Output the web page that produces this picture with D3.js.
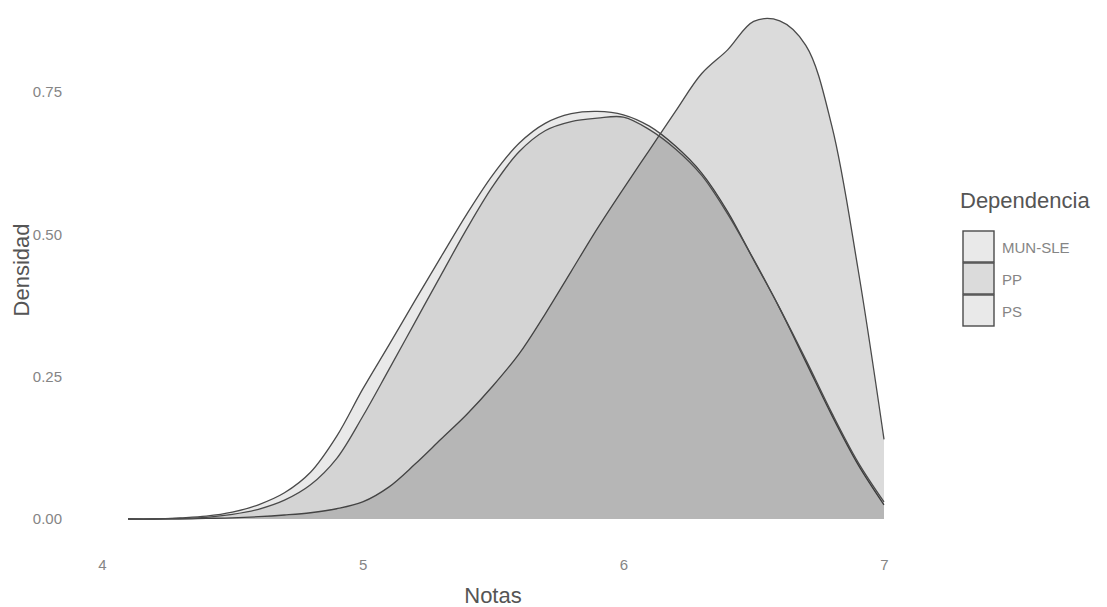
<!DOCTYPE html>
<html>
<head>
<meta charset="utf-8">
<script src="https://cdn.jsdelivr.net/npm/d3@7"></script>
<style>
  html, body { margin: 0; padding: 0; background: #ffffff; }
  svg { display: block; }
  text { font-family: "Liberation Sans", Arial, sans-serif; }
</style>
</head>
<body>
<script>
// ---- data ----
const notas = [4.1, 4.2, 4.3, 4.4, 4.5, 4.6, 4.7, 4.8, 4.9, 5.0,
               5.1, 5.2, 5.3, 5.4, 5.5, 5.6, 5.7, 5.8, 5.9, 6.0,
               6.1, 6.2, 6.3, 6.4, 6.5, 6.6, 6.7, 6.8, 6.9, 7.0];

const densMunSle = [0.000, 0.000, 0.002, 0.005, 0.012, 0.025, 0.046, 0.082, 0.145, 0.228,
                    0.305, 0.383, 0.460, 0.536, 0.605, 0.660, 0.695, 0.712, 0.716, 0.710,
                    0.690, 0.655, 0.608, 0.540, 0.455, 0.370, 0.276, 0.182, 0.096, 0.025];

const densPP     = [0.000, 0.000, 0.000, 0.001, 0.002, 0.004, 0.007, 0.011, 0.018, 0.030,
                    0.056, 0.096, 0.140, 0.184, 0.234, 0.290, 0.360, 0.435, 0.510, 0.580,
                    0.648, 0.716, 0.782, 0.824, 0.874, 0.875, 0.832, 0.690, 0.440, 0.140];

const densPS     = [0.000, 0.000, 0.001, 0.003, 0.008, 0.017, 0.033, 0.060, 0.106, 0.180,
                    0.262, 0.345, 0.428, 0.510, 0.585, 0.645, 0.682, 0.698, 0.704, 0.706,
                    0.684, 0.650, 0.604, 0.536, 0.456, 0.370, 0.280, 0.186, 0.100, 0.030];

const categories = ["MUN-SLE", "PP", "PS"];
const xTicks = [4, 5, 6, 7];
const yTicks = [0, 0.25, 0.5, 0.75];
const xTitle = "Notas";
const yTitle = "Densidad";
const legendTitle = "Dependencia";

// styles (kept apart from data)
const fillOpacity = { "MUN-SLE": 0.085, "PP": 0.14, "PS": 0.085 };
const tickFont = "'Liberation Sans Narrow', 'Liberation Sans', Arial, sans-serif";

const seriesValues = { "MUN-SLE": densMunSle, "PP": densPP, "PS": densPS };

const W = 1107, H = 607;
const svg = d3.select("body").append("svg").attr("width", W).attr("height", H);

const x = d3.scaleLinear().domain([4, 7]).range([102, 884]);
const y = d3.scaleLinear().domain([0, 0.75]).range([519, 92]);

const area = d3.area()
  .x(d => x(d.x)).y0(y(0)).y1(d => Math.min(y(0), y(d.y)))
  .curve(d3.curveCatmullRom.alpha(0.5));
const line = d3.line()
  .x(d => x(d.x)).y(d => y(d.y))
  .curve(d3.curveCatmullRom.alpha(0.5));

const plot = svg.append("g");
categories.forEach(cat => {
  const pts = notas.map((v, i) => ({ x: v, y: seriesValues[cat][i] }));
  plot.append("path").datum(pts)
    .attr("d", area)
    .attr("fill", "#000000")
    .attr("fill-opacity", fillOpacity[cat])
    .attr("stroke", "none");
  plot.append("path").datum(pts)
    .attr("d", line)
    .attr("fill", "none")
    .attr("stroke", "#4a4a4a")
    .attr("stroke-width", 1.3);
});

// axes
const xAxis = svg.append("g")
  .attr("transform", `translate(0,${y(0)})`)
  .call(d3.axisBottom(x).tickValues(xTicks).tickSize(0).tickPadding(40).tickFormat(d3.format("d")));
xAxis.select(".domain").remove();
xAxis.selectAll("text")
  .attr("fill", "#858585")
  .style("font-size", "15px")
  .style("font-family", tickFont);

const yAxis = svg.append("g")
  .attr("transform", `translate(${x(4)},0)`)
  .call(d3.axisLeft(y).tickValues(yTicks).tickSize(0).tickPadding(40).tickFormat(d3.format(".2f")));
yAxis.select(".domain").remove();
yAxis.selectAll("text")
  .attr("fill", "#858585")
  .style("font-size", "15px")
  .style("font-family", tickFont);

// axis titles
svg.append("text")
  .attr("x", 493).attr("y", 603)
  .attr("text-anchor", "middle")
  .attr("fill", "#555")
  .style("font-size", "22px")
  .text(xTitle);

svg.append("text")
  .attr("transform", "translate(29,270) rotate(-90)")
  .attr("text-anchor", "middle")
  .attr("fill", "#555")
  .style("font-size", "22px")
  .text(yTitle);

// legend
const lg = svg.append("g").attr("transform", "translate(960,0)");
lg.append("text")
  .attr("x", 0).attr("y", 208)
  .attr("fill", "#555")
  .style("font-size", "22px")
  .text(legendTitle);

categories.forEach((cat, i) => {
  const top = 231 + i * 32;
  lg.append("rect")
    .attr("x", 3).attr("y", top)
    .attr("width", 31).attr("height", 31)
    .attr("fill", "#ffffff");
  lg.append("rect")
    .attr("x", 3).attr("y", top)
    .attr("width", 31).attr("height", 31)
    .attr("fill", "#000000")
    .attr("fill-opacity", fillOpacity[cat])
    .attr("stroke", "#4a4a4a")
    .attr("stroke-width", 1.4);
  lg.append("text")
    .attr("x", 42).attr("y", top + 17)
    .attr("dy", "0.35em")
    .attr("fill", "#858585")
    .style("font-size", "15px")
    .style("font-family", tickFont)
    .text(cat);
});
</script>
</body>
</html>
